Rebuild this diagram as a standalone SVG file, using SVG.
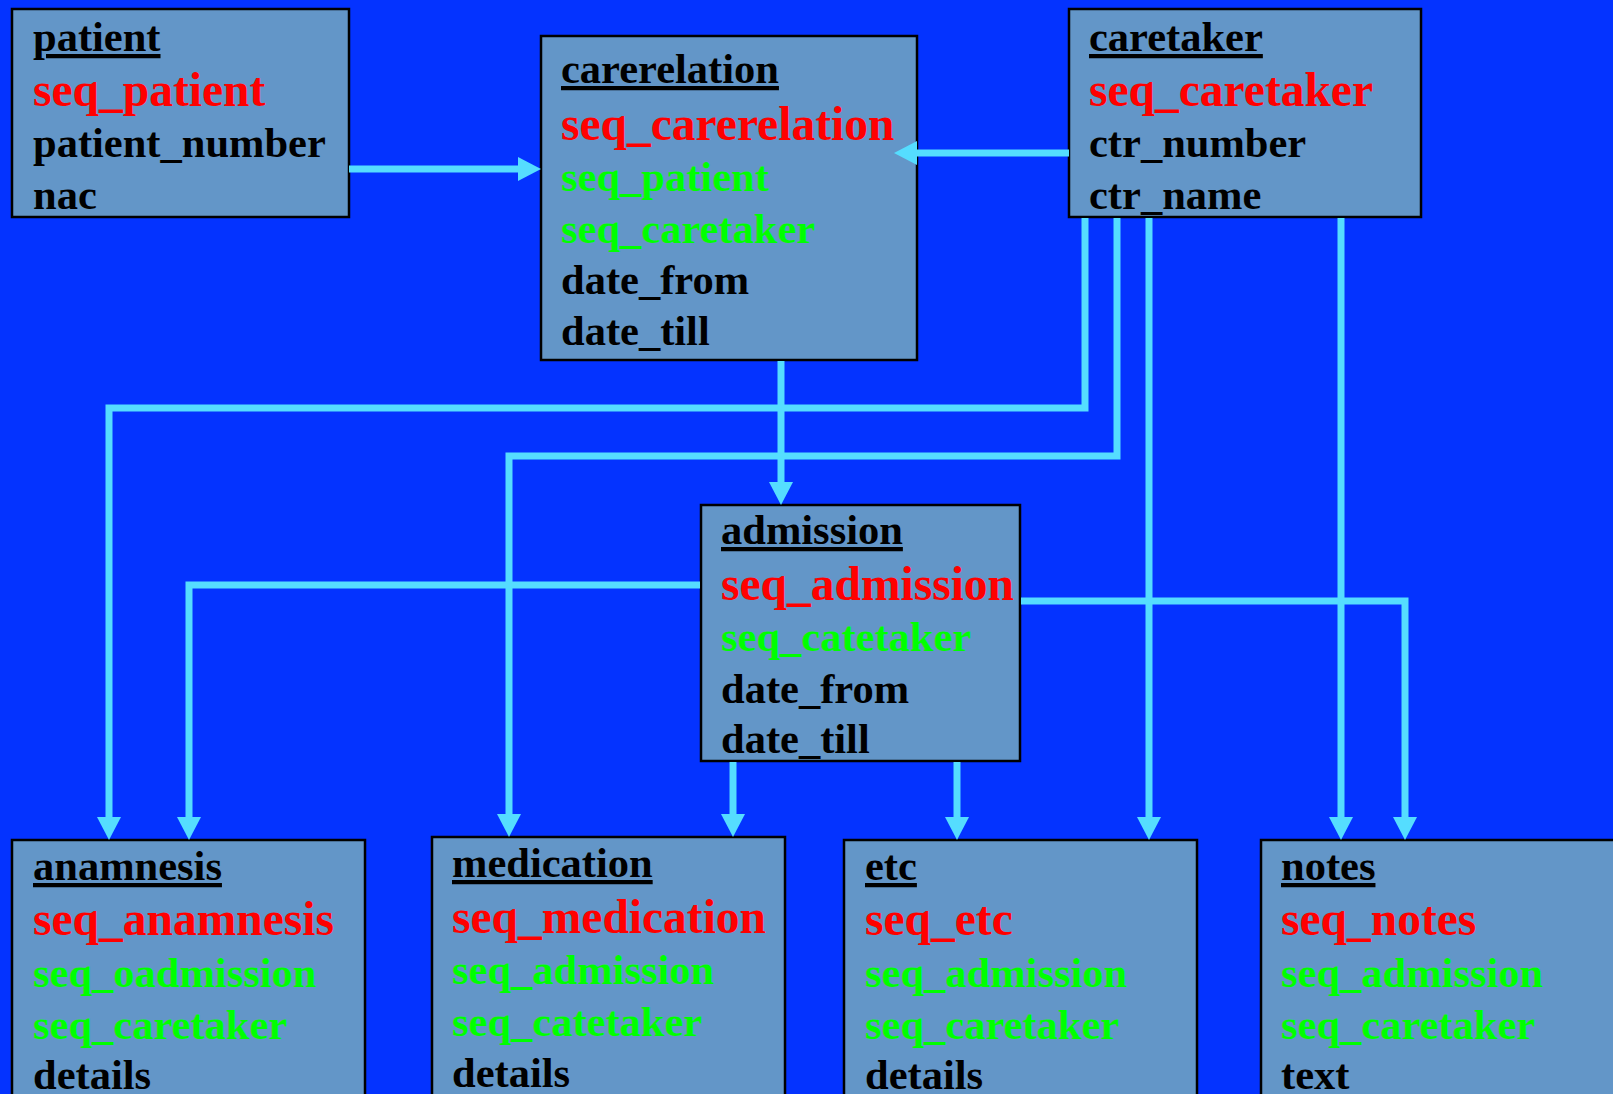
<svg xmlns="http://www.w3.org/2000/svg" width="1613" height="1094" viewBox="0 0 1613 1094">
<style>
.box{fill:#6396C8;stroke:#000;stroke-width:2.5}
text{font-family:"Liberation Serif","Times New Roman",serif;font-weight:bold;font-size:42.5px;fill:#000}
.t{text-decoration:underline}
.pk{fill:#FF0000;font-size:47.5px}
.fk{fill:#00FF00}
.c{fill:none;stroke:#55DDFF;stroke-width:7;stroke-linejoin:miter}
</style>
<defs>
<marker id="ah" markerUnits="userSpaceOnUse" markerWidth="24" markerHeight="26" viewBox="0 -13 24 26" refX="0" refY="0" orient="auto">
<path d="M0,-12 L23,0 L0,12 z" fill="#55DDFF"/>
</marker>
</defs>
<rect width="1613" height="1094" fill="#0433FF"/>
<g id="patient">
<rect class="box" x="12" y="9" width="337" height="208"/>
<text x="33" y="51" class="t">patient</text>
<text x="33" y="106" class="pk">seq_patient</text>
<text x="33" y="157">patient_number</text>
<text x="33" y="209">nac</text>
</g>
<g id="carerelation">
<rect class="box" x="541" y="36" width="376" height="324"/>
<text x="561" y="83" class="t">carerelation</text>
<text x="561" y="140" class="pk">seq_carerelation</text>
<text x="561" y="191" class="fk">seq_patient</text>
<text x="561" y="243" class="fk">seq_caretaker</text>
<text x="561" y="294">date_from</text>
<text x="561" y="345">date_till</text>
</g>
<g id="caretaker">
<rect class="box" x="1069" y="9" width="352" height="208"/>
<text x="1089" y="51" class="t">caretaker</text>
<text x="1089" y="106" class="pk">seq_caretaker</text>
<text x="1089" y="157">ctr_number</text>
<text x="1089" y="209">ctr_name</text>
</g>
<g id="admission">
<rect class="box" x="701" y="505" width="319" height="256"/>
<text x="721" y="544" class="t">admission</text>
<text x="721" y="600" class="pk">seq_admission</text>
<text x="721" y="651" class="fk">seq_catetaker</text>
<text x="721" y="703">date_from</text>
<text x="721" y="753">date_till</text>
</g>
<g id="anamnesis">
<rect class="box" x="12" y="840" width="353" height="280"/>
<text x="33" y="880" class="t">anamnesis</text>
<text x="33" y="935" class="pk">seq_anamnesis</text>
<text x="33" y="987" class="fk">seq_oadmission</text>
<text x="33" y="1039" class="fk">seq_caretaker</text>
<text x="33" y="1089">details</text>
</g>
<g id="medication">
<rect class="box" x="432" y="837" width="353" height="280"/>
<text x="452" y="877" class="t">medication</text>
<text x="452" y="933" class="pk">seq_medication</text>
<text x="452" y="984" class="fk">seq_admission</text>
<text x="452" y="1036" class="fk">seq_catetaker</text>
<text x="452" y="1087">details</text>
</g>
<g id="etc">
<rect class="box" x="844" y="840" width="353" height="280"/>
<text x="865" y="880" class="t">etc</text>
<text x="865" y="935" class="pk">seq_etc</text>
<text x="865" y="987" class="fk">seq_admission</text>
<text x="865" y="1039" class="fk">seq_caretaker</text>
<text x="865" y="1089">details</text>
</g>
<g id="notes">
<rect class="box" x="1261" y="840" width="360" height="280"/>
<text x="1281" y="880" class="t">notes</text>
<text x="1281" y="935" class="pk">seq_notes</text>
<text x="1281" y="987" class="fk">seq_admission</text>
<text x="1281" y="1039" class="fk">seq_caretaker</text>
<text x="1281" y="1089">text</text>
</g>
<g id="connectors">
<path class="c" d="M349,169 H518" marker-end="url(#ah)"/>
<path class="c" d="M1069,153 H917" marker-end="url(#ah)"/>
<path class="c" d="M781,361 V482" marker-end="url(#ah)"/>
<path class="c" d="M1085,218 V408 H109 V817" marker-end="url(#ah)"/>
<path class="c" d="M1117,218 V456 H509 V814" marker-end="url(#ah)"/>
<path class="c" d="M1149,218 V817" marker-end="url(#ah)"/>
<path class="c" d="M1341,218 V817" marker-end="url(#ah)"/>
<path class="c" d="M700,585 H189 V817" marker-end="url(#ah)"/>
<path class="c" d="M1021,601 H1405 V817" marker-end="url(#ah)"/>
<path class="c" d="M733,762 V814" marker-end="url(#ah)"/>
<path class="c" d="M957,762 V817" marker-end="url(#ah)"/>
</g>
</svg>
